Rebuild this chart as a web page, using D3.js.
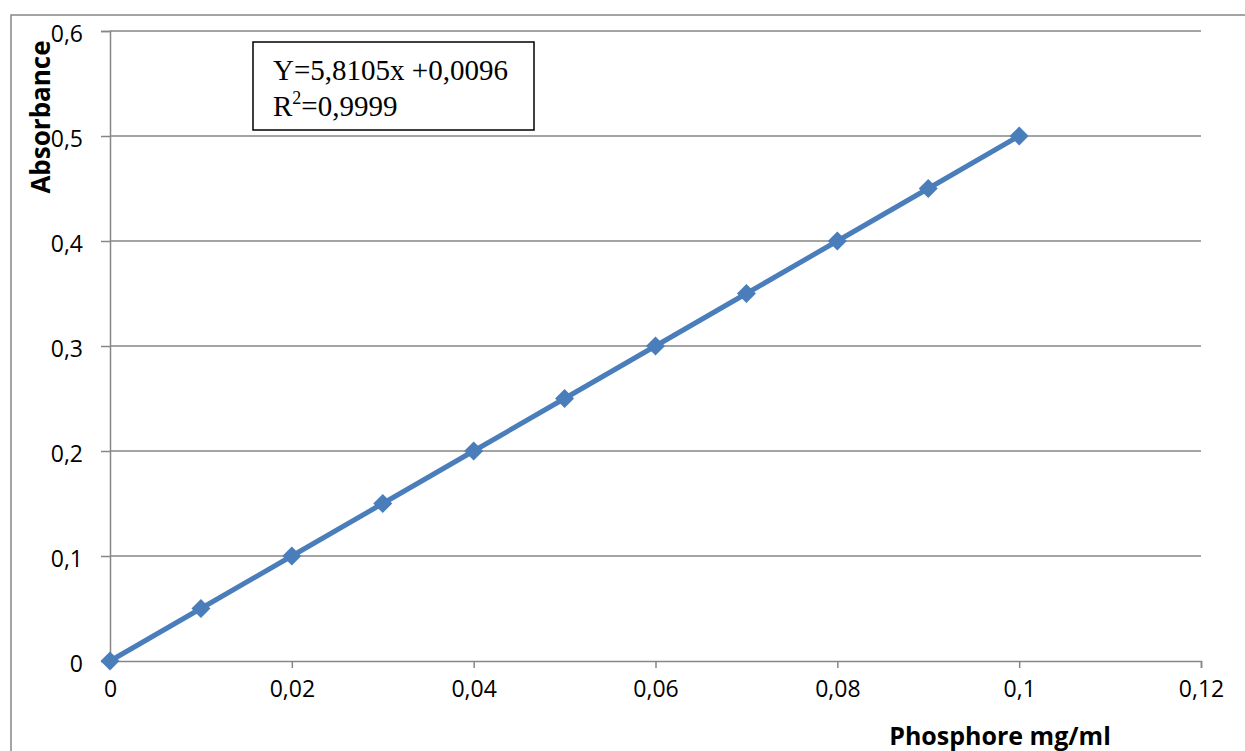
<!DOCTYPE html>
<html>
<head>
<meta charset="utf-8">
<script src="https://cdn.jsdelivr.net/npm/d3@7"></script>
<style>
  body { margin: 0; background: #fff; }
  svg { display: block; }
</style>
</head>
<body>
<svg id="chart" width="1245" height="751"></svg>
<script>
// data
const concentrations = [0, 0.01, 0.02, 0.03, 0.04, 0.05, 0.06, 0.07, 0.08, 0.09, 0.1]
const absorbance = [0, 0.05, 0.1, 0.15, 0.2, 0.25, 0.3, 0.35, 0.4, 0.45, 0.5]
const xTicks = [0, 0.02, 0.04, 0.06, 0.08, 0.1, 0.12]
const yTicks = [0, 0.1, 0.2, 0.3, 0.4, 0.5, 0.6]
const equationLines = ["Y=5,8105x +0,0096", "=0,9999"]

const svg = d3.select("#chart")
const gray = "#868686"
const blue = "#4a7ebb"
const sans = "'Open Sans', sans-serif"
const serif = "'Liberation Serif', 'Times New Roman', serif"

const fr = d3.formatLocale({decimal: ",", thousands: " ", grouping: [3], currency: ["", ""]})
const fmt = fr.format("~g")

const x = d3.scaleLinear().domain([0, 0.12]).range([110, 1201])
const y = d3.scaleLinear().domain([0, 0.6]).range([661, 31])

// outer chart frame (runs off the picture)
svg.append("rect")
    .attr("x", 11).attr("y", 15)
    .attr("width", 1300).attr("height", 800)
    .attr("fill", "none").attr("stroke", gray).attr("stroke-width", 1.5)

// horizontal gridlines
svg.append("g").selectAll("line")
    .data(yTicks.filter(d => d > 0))
    .join("line")
    .attr("x1", x(0)).attr("x2", x(0.12))
    .attr("y1", d => y(d)).attr("y2", d => y(d))
    .attr("stroke", gray).attr("stroke-width", 1.5)

// y axis
const yAxis = svg.append("g")
    .attr("transform", `translate(${x(0)},0)`)
    .call(d3.axisLeft(y).tickValues(yTicks).tickFormat(fmt).tickSize(9).tickPadding(18))
yAxis.select(".domain").attr("stroke", gray).attr("stroke-width", 1.5)
yAxis.selectAll(".tick line").attr("stroke", gray).attr("stroke-width", 1.5)
yAxis.selectAll(".tick text")
    .attr("font-family", sans).attr("font-size", 23).attr("fill", "#000")
    .attr("dy", "0.45em")

// x axis
const xAxis = svg.append("g")
    .attr("transform", `translate(0,${y(0)})`)
    .call(d3.axisBottom(x).tickValues(xTicks).tickFormat(fmt).tickSize(7).tickPadding(13))
xAxis.select(".domain").attr("stroke", gray).attr("stroke-width", 1.5)
xAxis.selectAll(".tick line").attr("stroke", gray).attr("stroke-width", 1.5)
xAxis.selectAll(".tick text")
    .attr("font-family", sans).attr("font-size", 23).attr("fill", "#000")

// axis titles
svg.append("text")
    .attr("transform", `translate(50,117) rotate(-90)`)
    .attr("text-anchor", "middle")
    .attr("font-family", sans).attr("font-weight", "bold").attr("font-size", 26)
    .text("Absorbance")

svg.append("text")
    .attr("x", 1000).attr("y", 745)
    .attr("text-anchor", "middle")
    .attr("font-family", sans).attr("font-weight", "bold").attr("font-size", 25)
    .text("Phosphore mg/ml")

// series
const pts = concentrations.map((c, i) => [c, absorbance[i]])

svg.append("path")
    .datum(pts)
    .attr("fill", "none").attr("stroke", blue).attr("stroke-width", 5)
    .attr("stroke-linejoin", "round")
    .attr("d", d3.line().x(d => x(d[0])).y(d => y(d[1])))

svg.append("g").selectAll("path")
    .data(pts)
    .join("path")
    .attr("transform", d => `translate(${x(d[0])},${y(d[1])})`)
    .attr("d", d3.symbol(d3.symbolDiamond2, 230))
    .attr("fill", blue)

// equation box
svg.append("rect")
    .attr("x", 253).attr("y", 42).attr("width", 281).attr("height", 88)
    .attr("fill", "#fff").attr("stroke", "#000").attr("stroke-width", 1.5)

svg.append("text")
    .attr("x", 273).attr("y", 80)
    .attr("font-family", serif).attr("font-size", 29)
    .text(equationLines[0])

const r2 = svg.append("text")
    .attr("x", 273).attr("y", 116)
    .attr("font-family", serif).attr("font-size", 29)
r2.append("tspan").text("R")
r2.append("tspan").attr("font-size", 18).attr("dy", -12).text("2")
r2.append("tspan").attr("dy", 12).text(equationLines[1])
</script>
</body>
</html>
